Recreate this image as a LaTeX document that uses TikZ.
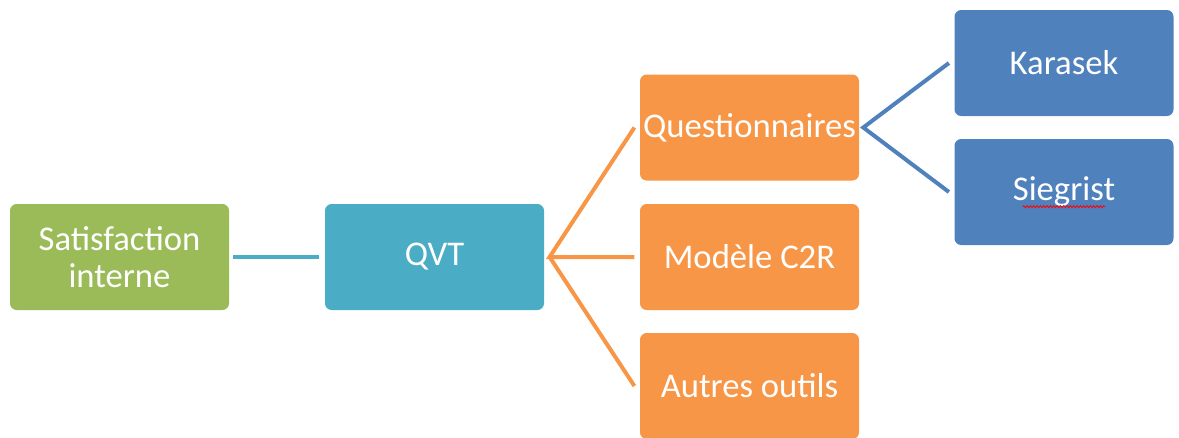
\documentclass[tikz,border=0pt]{standalone}
\usepackage{fontspec}
\setmainfont{Carlito}
\usetikzlibrary{decorations.pathmorphing}
\definecolor{cgreen}{HTML}{9BBB59}
\definecolor{cteal}{HTML}{4BACC6}
\definecolor{corange}{HTML}{F79646}
\definecolor{cblue}{HTML}{4F81BD}
\begin{document}
\begin{tikzpicture}[x=0.75pt,y=-0.75pt,
  box/.style={rounded corners=5pt, minimum width=219*0.75pt, minimum height=106*0.75pt,
    inner sep=0pt, text=white, align=center, font=\fontsize{26}{28}\selectfont},
  conn/.style={line width=3pt}]
\useasboundingbox (0,0) rectangle (1179,437);
\node[box, fill=cgreen] (sat) at (119.5,257) {Satisfaction\\interne};
\node[box, fill=cteal] (qvt) at (434.5,257) {QVT};
\node[box, fill=corange] (que) at (749.5,127.5) {Questionnaires};
\node[box, fill=corange] (mod) at (749.5,257) {Modèle C2R};
\node[box, fill=corange] (aut) at (749.5,386) {Autres outils};
\node[box, fill=cblue] (kar) at (1064,63) {Karasek};
\node[box, fill=cblue] (sie) at (1064,192) {Siegrist};
\draw[red, line width=0.6pt, decoration={snake, amplitude=0.8pt, segment length=2.5pt}, decorate]
  ([xshift=-31pt,yshift=-11pt]sie.center) -- ([xshift=31pt,yshift=-11pt]sie.center);
\coordinate (q1) at ([xshift=4pt]qvt.east);
\coordinate (s1) at ([xshift=3pt]sat.east);
\coordinate (c1) at ([xshift=3pt]que.east);
\draw[conn, cteal] (s1) -- ([xshift=-4pt]qvt.west);
\draw[conn, corange] ([xshift=-4pt]que.west) -- (q1) -- ([xshift=-4pt]mod.west);
\draw[conn, corange] (q1) -- ([xshift=-4pt]aut.west);
\draw[conn, cblue] ([xshift=-4pt]kar.west) -- (c1) -- ([xshift=-4pt]sie.west);
\end{tikzpicture}
\end{document}
